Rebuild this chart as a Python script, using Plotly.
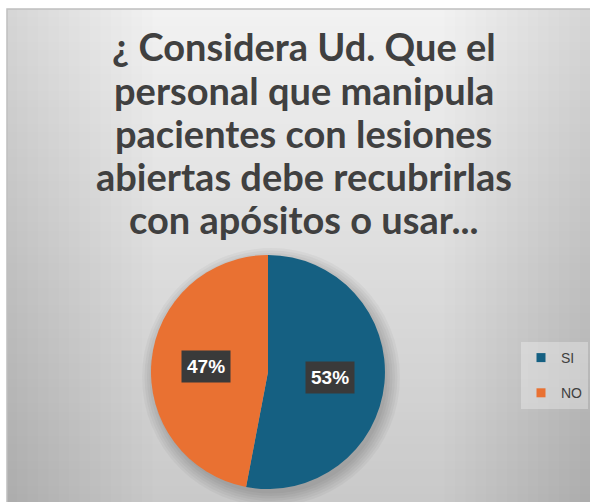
import math
import plotly.graph_objects as go

# data
labels = ["SI", "NO"]
values = [53, 47]
colors = ["#156082", "#E97132"]
title_lines = ["¿ Considera Ud. Que el", "personal que manipula", "pacientes con lesiones",
               "abiertas debe recubrirlas", "con apósitos o usar..."]

W, H = 590, 502


def mix(c1, c2, t):
    a = [int(c1[i:i + 2], 16) for i in (1, 3, 5)]
    b = [int(c2[i:i + 2], 16) for i in (1, 3, 5)]
    return "#" + "".join("%02x" % round(a[k] + (b[k] - a[k]) * t) for k in range(3))


shapes = []
# gray gradient panel, drawn as thin strips
left, top = 7 / W, 1 - 9 / H
n = 60
for i in range(n):
    y0 = top * i / n
    y1 = top * (i + 1) / n + 0.002
    shapes.append(dict(type="rect", xref="paper", yref="paper", x0=left, x1=1, y0=y0, y1=min(y1, top),
                       fillcolor=mix("#f2f2f2", "#c9c9c9", 1 - (i + 0.5) / n), line_width=0, layer="below"))
# darker sides
m = 14
for i in range(m):
    w = (1 - left) * 0.5 * (m - i) / m
    shapes.append(dict(type="rect", xref="paper", yref="paper", x0=left, x1=left + w * 0.5, y0=0, y1=top,
                       fillcolor="black", opacity=0.006, line_width=0, layer="below"))
    shapes.append(dict(type="rect", xref="paper", yref="paper", x0=1 - w * 0.5, x1=1, y0=0, y1=top,
                       fillcolor="black", opacity=0.006, line_width=0, layer="below"))
# white outer border (top and left)
shapes.append(dict(type="rect", xref="paper", yref="paper", x0=0, x1=1, y0=top, y1=1,
                   fillcolor="white", line_width=0, layer="below"))
shapes.append(dict(type="rect", xref="paper", yref="paper", x0=0, x1=left, y0=0, y1=1,
                   fillcolor="white", line_width=0, layer="below"))
# panel edge
shapes.append(dict(type="path", xref="paper", yref="paper",
                   path="M %f,0 L %f,%f L 1,%f" % (left, left, top, top),
                   line=dict(color="#bfbfbf", width=1.5), layer="below"))

# pie placement (paper fractions)
dom_x = [0.2559, 0.6525]
dom_y = [0.0259, 0.492]
cx = (dom_x[0] + dom_x[1]) / 2 * W
cy = (dom_y[0] + dom_y[1]) / 2 * H
R = min((dom_x[1] - dom_x[0]) * W, (dom_y[1] - dom_y[0]) * H) / 2

# soft shadow under the pie
for k in range(6):
    r = R + 12 - k * 2.5
    sx, sy = cx + 3, cy - 5
    shapes.append(dict(type="circle", xref="paper", yref="paper",
                       x0=(sx - r) / W, x1=(sx + r) / W, y0=(sy - r) / H, y1=(sy + r) / H,
                       fillcolor="black", opacity=0.035, line_width=0, layer="below"))

fig = go.Figure()
fig.add_trace(go.Pie(
    labels=labels, values=values, sort=False, direction="clockwise", rotation=0,
    marker=dict(colors=colors, line=dict(width=0)),
    textinfo="none", hoverinfo="label+percent", showlegend=False,
    domain=dict(x=dom_x, y=dom_y),
))

# legend via dummy markers so items can be spaced out
for i, lab in enumerate(labels):
    fig.add_trace(go.Scatter(
        x=[None], y=[None], mode="markers", name=lab, legendgroup=lab,
        marker=dict(symbol="square", size=9, color=colors[i]),
    ))

# percent labels in dark boxes at slice centroids
total = sum(values)
start = 0.0
for v in values:
    mid = (start + v / 2) / total * 2 * math.pi
    start += v
    px = cx + 0.53 * R * math.sin(mid)
    py = cy + 0.53 * R * math.cos(mid)
    fig.add_annotation(
        x=px / W, y=py / H, xref="paper", yref="paper", showarrow=False,
        xanchor="center", yanchor="middle",
        text="<b>%d%%</b>" % round(v / total * 100),
        font=dict(family="Liberation Sans, Arial", size=19, color="white"),
        bgcolor="#3a3a3a", borderpad=5,
    )

# title, one annotation per line
line_y = [46, 90, 133, 176, 219]
for txt, yy in zip(title_lines, line_y):
    fig.add_annotation(
        x=0.515, y=1 - yy / H, xref="paper", yref="paper", showarrow=False,
        xanchor="center", yanchor="middle", text="<b>%s</b>" % txt,
        font=dict(family="Lato, Open Sans", size=38, color="#404040"),
    )

fig.update_layout(
    width=W, height=H,
    margin=dict(l=0, r=0, t=0, b=0, autoexpand=False),
    paper_bgcolor="#d3d3d3", plot_bgcolor="rgba(0,0,0,0)",
    xaxis=dict(visible=False), yaxis=dict(visible=False),
    shapes=shapes,
    legend=dict(
        x=521 / W, y=1 - 342 / H, xanchor="left", yanchor="top",
        bgcolor="rgba(255,255,255,0.3)", tracegroupgap=14,
        font=dict(family="Liberation Sans, Arial", size=14, color="#404040"),
        itemwidth=30,
    ),
)

fig.write_html("out.html", config={"displayModeBar": False},
               post_script="document.body.style.margin='0';"
                           "document.documentElement.style.overflow='hidden';"
                           "document.body.style.overflow='hidden';")
